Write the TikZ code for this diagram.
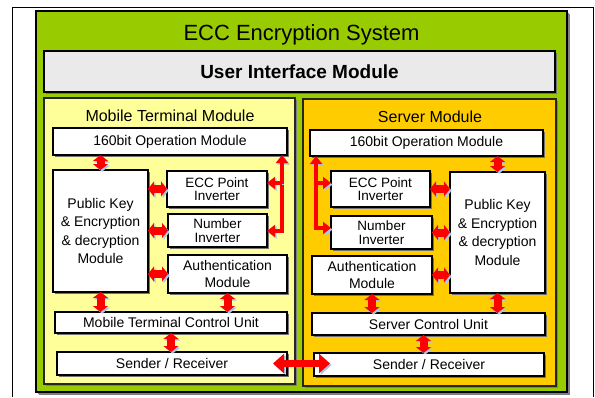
\documentclass[tikz,border=0pt]{standalone}
\usepackage{fontspec}
\setmainfont{Liberation Sans}
\usetikzlibrary{arrows.meta}
\usetikzlibrary{shadows}
\definecolor{sysgreen}{RGB}{153,204,0}
\definecolor{uigray}{RGB}{234,234,234}
\definecolor{mobileyellow}{RGB}{255,255,153}
\definecolor{serverorange}{RGB}{255,204,0}
\definecolor{arrred}{RGB}{255,0,0}
\definecolor{shadowblue}{RGB}{160,200,240}
\tikzset{dims/.style 2 args = {minimum width = #1pt, minimum height = #2pt}}
\tikzset{box/.style = {draw, line width = 1.2pt, fill = white, outer sep = 0, inner sep = 0,
                       align = center, font = \fontsize{14}{16.5}\selectfont,
                       drop shadow = {shadow xshift = 1.5pt, shadow yshift = -1.5pt,
                                      fill = black!55, opacity = 1}}}
\tikzset{tight/.style = {font = \fontsize{13.5}{13.5}\selectfont}}
\tikzset{area/.style = {draw = black!85, line width = 1.5pt, outer sep = 0,
                        drop shadow = {shadow xshift = 2pt, shadow yshift = -2pt,
                                       fill = black!50, opacity = 1}}}
\tikzset{bluecast/.style = {preaction = {draw = shadowblue,
                                         transform canvas = {shift = {(1.6pt, -1.6pt)}}}}}
\tikzset{blockarr/.style = {draw = arrred, line width = 8pt, bluecast,
                            {Triangle[width = 15pt, length = 6pt]}-{Triangle[width = 15pt, length = 6pt]}}}
\tikzset{bigarr/.style = {draw = arrred, line width = 7pt, bluecast,
                          {Triangle[width = 19pt, length = 11pt]}-{Triangle[width = 19pt, length = 11pt]}}}
\tikzset{bracket/.style = {draw = arrred, line width = 4pt, bluecast, line join = miter,
                           {Triangle[width = 12pt, length = 8pt]}-{Triangle[width = 12pt, length = 8pt]}}}
\tikzset{brackettip/.style = {draw = arrred, line width = 4pt, bluecast,
                              -{Triangle[width = 12pt, length = 8pt]}}}
\begin{document}
\begin{tikzpicture}[x = 1pt, y = -1pt]
  \useasboundingbox (0, 0) rectangle (595, 397);
  \draw [line width = 0.8pt] (12, 397) |- (593, 7) -- (593, 397);

  % whole system
  \node [area, draw = black, line width = 2pt, fill = sysgreen, dims = {531}{381},
         drop shadow = {shadow xshift = 3pt, shadow yshift = -3pt, fill = black!50, opacity = 1}]
        (sys) at (301.5, 201.5) {};
  \node [anchor = base, font = \fontsize{22}{25}\selectfont] (title) at (301.5, 40.5) {ECC Encryption System};
  \node [box, fill = uigray, dims = {511}{41}, font = \bfseries\fontsize{19}{22}\selectfont]
        (ui) at (299.5, 71.5) {User Interface Module};

  % mobile terminal
  \node [area, fill = mobileyellow, dims = {251}{286}] (mobile) at (169.5, 241) {};
  \node [anchor = base, font = \fontsize{16}{19}\selectfont] (mlabel) at (170, 121.5) {Mobile Terminal Module};
  \node [box, dims = {234}{27}] (mop) at (170, 141.5) {160bit Operation Module};
  \node [box, dims = {95}{122}, font = \fontsize{14}{18.5}\selectfont] (mpk) at (100.5, 231)
        {Public Key\\\& Encryption\\\& decryption\\Module};
  \node [box, tight, dims = {100}{36}] (mecc) at (217, 189) {ECC Point\\Inverter};
  \node [box, tight, dims = {99}{33}] (mnum) at (217.5, 230.5) {Number\\Inverter};
  \node [box, dims = {119}{38}] (mauth) at (227.5, 274) {Authentication\\Module};
  \node [box, dims = {232}{21}] (mctrl) at (171, 322.5) {Mobile Terminal Control Unit};
  \node [box, dims = {230}{23}] (msr) at (172, 363.5) {Sender / Receiver};

  % server
  \node [area, fill = serverorange, dims = {253}{287}] (server) at (429.5, 242.5) {};
  \node [anchor = base, font = \fontsize{16}{19}\selectfont] (slabel) at (430, 122.5) {Server Module};
  \node [box, dims = {233}{26}] (sop) at (426.5, 143) {160bit Operation Module};
  \node [box, tight, dims = {99}{36}] (secc) at (380.5, 189) {ECC Point\\Inverter};
  \node [box, tight, dims = {101}{33}] (snum) at (381.5, 232.5) {Number\\Inverter};
  \node [box, dims = {120}{38}] (sauth) at (372, 275) {Authentication\\Module};
  \node [box, dims = {95}{121}, font = \fontsize{14}{18.5}\selectfont] (spk) at (497.5, 232.5)
        {Public Key\\\& Encryption\\\& decryption\\Module};
  \node [box, dims = {233}{22}] (sctrl) at (428.5, 324) {Server Control Unit};
  \node [box, dims = {230}{23}] (ssr) at (429, 364.5) {Sender / Receiver};

  % links, mobile side
  \draw [blockarr] (mop.south -| mpk) -- (mpk.north);
  \draw [blockarr] (mpk.east |- mecc) -- (mecc.west);
  \draw [blockarr] (mpk.east |- mnum) -- (mnum.west);
  \draw [blockarr] (mpk.east |- mauth) -- (mauth.west);
  \draw [blockarr] (mpk.south) -- (mpk.south |- mctrl.north);
  \draw [blockarr] (mauth.south) -- (mauth.south |- mctrl.north);
  \draw [blockarr] (mctrl.south) -- (mctrl.south |- msr.north);
  \coordinate (mbend) at (282, 231);
  \coordinate (mfork) at (282, 183);
  \draw [bracket] (mop.south -| mbend) -- (mbend) -- (mbend -| mnum.east);
  \draw [brackettip] (mfork) -- (mfork -| mecc.east);

  % links, server side
  \draw [blockarr] (sop.south -| spk) -- (spk.north);
  \draw [blockarr] (secc.east) -- (secc.east -| spk.west);
  \draw [blockarr] (snum.east) -- (snum.east -| spk.west);
  \draw [blockarr] (sauth.east) -- (sauth.east -| spk.west);
  \draw [blockarr] (spk.south) -- (spk.south |- sctrl.north);
  \draw [blockarr] (sauth.south) -- (sauth.south |- sctrl.north);
  \draw [blockarr] ([xshift = -5pt]sctrl.south) -- ([xshift = -5pt]sctrl.south |- ssr.north);
  \coordinate (sbend) at (316, 228);
  \coordinate (sfork) at (316, 183);
  \draw [bracket] (sop.south -| sbend) -- (sbend) -- (sbend -| snum.west);
  \draw [brackettip] (sfork) -- (sfork -| secc.west);

  % mobile <-> server
  \draw [bigarr] ([xshift = -14pt]msr.east) -- ([xshift = 16pt]msr.east -| ssr.west);
\end{tikzpicture}
\end{document}
